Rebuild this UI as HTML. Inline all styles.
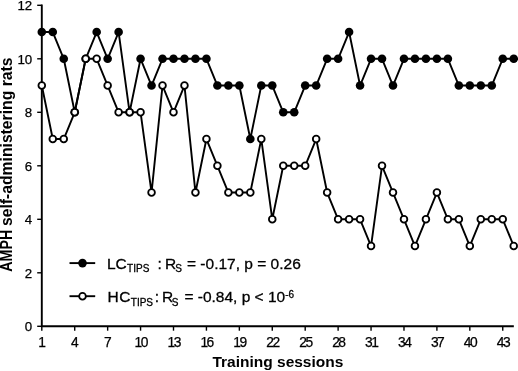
<!DOCTYPE html>
<html><head><meta charset="utf-8"><title>chart</title>
<style>
html,body{margin:0;padding:0;background:#fff;}
body{width:518px;height:371px;overflow:hidden;}
svg{display:block;}
text{font-family:"Liberation Sans",Arial,Helvetica,sans-serif;fill:#000;}
</style></head><body>
<svg width="518" height="371" viewBox="0 0 518 371">
<rect width="518" height="371" fill="#fff"/>

<g stroke="#000" stroke-width="1.9" fill="none">
<path d="M41.8 4.60 V326.3 H513.83"/>
</g><g stroke="#000" stroke-width="1.4" fill="none">
<path d="M37.20 326.30 H41.8"/>
<path d="M37.20 272.80 H41.8"/>
<path d="M37.20 219.30 H41.8"/>
<path d="M37.20 165.80 H41.8"/>
<path d="M37.20 112.30 H41.8"/>
<path d="M37.20 58.80 H41.8"/>
<path d="M37.20 5.30 H41.8"/>
<path d="M41.80 326.3 V330.70"/>
<path d="M74.72 326.3 V330.70"/>
<path d="M107.65 326.3 V330.70"/>
<path d="M140.57 326.3 V330.70"/>
<path d="M173.50 326.3 V330.70"/>
<path d="M206.43 326.3 V330.70"/>
<path d="M239.35 326.3 V330.70"/>
<path d="M272.27 326.3 V330.70"/>
<path d="M305.20 326.3 V330.70"/>
<path d="M338.12 326.3 V330.70"/>
<path d="M371.05 326.3 V330.70"/>
<path d="M403.98 326.3 V330.70"/>
<path d="M436.90 326.3 V330.70"/>
<path d="M469.82 326.3 V330.70"/>
<path d="M502.75 326.3 V330.70"/>
</g>
<g stroke="#000" stroke-width="0.25">
<text x="32.2" y="331.00" font-size="13.3" text-anchor="end">0</text>
<text x="32.2" y="277.50" font-size="13.3" text-anchor="end">2</text>
<text x="32.2" y="224.00" font-size="13.3" text-anchor="end">4</text>
<text x="32.2" y="170.50" font-size="13.3" text-anchor="end">6</text>
<text x="32.2" y="117.00" font-size="13.3" text-anchor="end">8</text>
<text x="32.2" y="63.50" font-size="13.3" text-anchor="end">10</text>
<text x="32.2" y="10.00" font-size="13.3" text-anchor="end">12</text>
<text x="42.00" y="346.6" font-size="13.8" text-anchor="middle">1</text>
<text x="74.92" y="346.6" font-size="13.8" text-anchor="middle">4</text>
<text x="107.85" y="346.6" font-size="13.8" text-anchor="middle">7</text>
<text x="140.77" y="346.6" font-size="13.8" text-anchor="middle" letter-spacing="-1.5">10</text>
<text x="173.70" y="346.6" font-size="13.8" text-anchor="middle" letter-spacing="-1.5">13</text>
<text x="206.62" y="346.6" font-size="13.8" text-anchor="middle" letter-spacing="-1.5">16</text>
<text x="239.55" y="346.6" font-size="13.8" text-anchor="middle" letter-spacing="-1.5">19</text>
<text x="272.47" y="346.6" font-size="13.8" text-anchor="middle" letter-spacing="-1.5">22</text>
<text x="305.40" y="346.6" font-size="13.8" text-anchor="middle" letter-spacing="-1.5">25</text>
<text x="338.32" y="346.6" font-size="13.8" text-anchor="middle" letter-spacing="-1.5">28</text>
<text x="371.25" y="346.6" font-size="13.8" text-anchor="middle" letter-spacing="-1.5">31</text>
<text x="404.18" y="346.6" font-size="13.8" text-anchor="middle" letter-spacing="-1.5">34</text>
<text x="437.10" y="346.6" font-size="13.8" text-anchor="middle" letter-spacing="-1.5">37</text>
<text x="470.02" y="346.6" font-size="13.8" text-anchor="middle" letter-spacing="-1.5">40</text>
<text x="502.95" y="346.6" font-size="13.8" text-anchor="middle" letter-spacing="-1.5">43</text>
</g>
<polyline points="41.80,32.05 52.77,32.05 63.75,58.80 74.72,112.30 85.70,58.80 96.67,32.05 107.65,58.80 118.62,32.05 129.60,112.30 140.57,58.80 151.55,85.55 162.52,58.80 173.50,58.80 184.47,58.80 195.45,58.80 206.43,58.80 217.40,85.55 228.38,85.55 239.35,85.55 250.32,139.05 261.30,85.55 272.27,85.55 283.25,112.30 294.22,112.30 305.20,85.55 316.18,85.55 327.15,58.80 338.12,58.80 349.10,32.05 360.07,85.55 371.05,58.80 382.02,58.80 393.00,85.55 403.98,58.80 414.95,58.80 425.93,58.80 436.90,58.80 447.88,58.80 458.85,85.55 469.82,85.55 480.80,85.55 491.77,85.55 502.75,58.80 513.73,58.80" fill="none" stroke="#000" stroke-width="1.9" stroke-linejoin="round"/>
<circle cx="41.80" cy="32.05" r="4.3" fill="#000"/>
<circle cx="52.77" cy="32.05" r="4.3" fill="#000"/>
<circle cx="63.75" cy="58.80" r="4.3" fill="#000"/>
<circle cx="74.72" cy="112.30" r="4.3" fill="#000"/>
<circle cx="85.70" cy="58.80" r="4.3" fill="#000"/>
<circle cx="96.67" cy="32.05" r="4.3" fill="#000"/>
<circle cx="107.65" cy="58.80" r="4.3" fill="#000"/>
<circle cx="118.62" cy="32.05" r="4.3" fill="#000"/>
<circle cx="129.60" cy="112.30" r="4.3" fill="#000"/>
<circle cx="140.57" cy="58.80" r="4.3" fill="#000"/>
<circle cx="151.55" cy="85.55" r="4.3" fill="#000"/>
<circle cx="162.52" cy="58.80" r="4.3" fill="#000"/>
<circle cx="173.50" cy="58.80" r="4.3" fill="#000"/>
<circle cx="184.47" cy="58.80" r="4.3" fill="#000"/>
<circle cx="195.45" cy="58.80" r="4.3" fill="#000"/>
<circle cx="206.43" cy="58.80" r="4.3" fill="#000"/>
<circle cx="217.40" cy="85.55" r="4.3" fill="#000"/>
<circle cx="228.38" cy="85.55" r="4.3" fill="#000"/>
<circle cx="239.35" cy="85.55" r="4.3" fill="#000"/>
<circle cx="250.32" cy="139.05" r="4.3" fill="#000"/>
<circle cx="261.30" cy="85.55" r="4.3" fill="#000"/>
<circle cx="272.27" cy="85.55" r="4.3" fill="#000"/>
<circle cx="283.25" cy="112.30" r="4.3" fill="#000"/>
<circle cx="294.22" cy="112.30" r="4.3" fill="#000"/>
<circle cx="305.20" cy="85.55" r="4.3" fill="#000"/>
<circle cx="316.18" cy="85.55" r="4.3" fill="#000"/>
<circle cx="327.15" cy="58.80" r="4.3" fill="#000"/>
<circle cx="338.12" cy="58.80" r="4.3" fill="#000"/>
<circle cx="349.10" cy="32.05" r="4.3" fill="#000"/>
<circle cx="360.07" cy="85.55" r="4.3" fill="#000"/>
<circle cx="371.05" cy="58.80" r="4.3" fill="#000"/>
<circle cx="382.02" cy="58.80" r="4.3" fill="#000"/>
<circle cx="393.00" cy="85.55" r="4.3" fill="#000"/>
<circle cx="403.98" cy="58.80" r="4.3" fill="#000"/>
<circle cx="414.95" cy="58.80" r="4.3" fill="#000"/>
<circle cx="425.93" cy="58.80" r="4.3" fill="#000"/>
<circle cx="436.90" cy="58.80" r="4.3" fill="#000"/>
<circle cx="447.88" cy="58.80" r="4.3" fill="#000"/>
<circle cx="458.85" cy="85.55" r="4.3" fill="#000"/>
<circle cx="469.82" cy="85.55" r="4.3" fill="#000"/>
<circle cx="480.80" cy="85.55" r="4.3" fill="#000"/>
<circle cx="491.77" cy="85.55" r="4.3" fill="#000"/>
<circle cx="502.75" cy="58.80" r="4.3" fill="#000"/>
<circle cx="513.73" cy="58.80" r="4.3" fill="#000"/>
<polyline points="41.80,85.55 52.77,139.05 63.75,139.05 74.72,112.30 85.70,58.80 96.67,58.80 107.65,85.55 118.62,112.30 129.60,112.30 140.57,112.30 151.55,192.55 162.52,85.55 173.50,112.30 184.47,85.55 195.45,192.55 206.43,139.05 217.40,165.80 228.38,192.55 239.35,192.55 250.32,192.55 261.30,139.05 272.27,219.30 283.25,165.80 294.22,165.80 305.20,165.80 316.18,139.05 327.15,192.55 338.12,219.30 349.10,219.30 360.07,219.30 371.05,246.05 382.02,165.80 393.00,192.55 403.98,219.30 414.95,246.05 425.93,219.30 436.90,192.55 447.88,219.30 458.85,219.30 469.82,246.05 480.80,219.30 491.77,219.30 502.75,219.30 513.73,246.05" fill="none" stroke="#000" stroke-width="1.9" stroke-linejoin="round"/>
<circle cx="41.80" cy="85.55" r="3.35" fill="#fff" stroke="#000" stroke-width="1.8"/>
<circle cx="52.77" cy="139.05" r="3.35" fill="#fff" stroke="#000" stroke-width="1.8"/>
<circle cx="63.75" cy="139.05" r="3.35" fill="#fff" stroke="#000" stroke-width="1.8"/>
<circle cx="74.72" cy="112.30" r="3.35" fill="#fff" stroke="#000" stroke-width="1.8"/>
<circle cx="85.70" cy="58.80" r="3.35" fill="#fff" stroke="#000" stroke-width="1.8"/>
<circle cx="96.67" cy="58.80" r="3.35" fill="#fff" stroke="#000" stroke-width="1.8"/>
<circle cx="107.65" cy="85.55" r="3.35" fill="#fff" stroke="#000" stroke-width="1.8"/>
<circle cx="118.62" cy="112.30" r="3.35" fill="#fff" stroke="#000" stroke-width="1.8"/>
<circle cx="129.60" cy="112.30" r="3.35" fill="#fff" stroke="#000" stroke-width="1.8"/>
<circle cx="140.57" cy="112.30" r="3.35" fill="#fff" stroke="#000" stroke-width="1.8"/>
<circle cx="151.55" cy="192.55" r="3.35" fill="#fff" stroke="#000" stroke-width="1.8"/>
<circle cx="162.52" cy="85.55" r="3.35" fill="#fff" stroke="#000" stroke-width="1.8"/>
<circle cx="173.50" cy="112.30" r="3.35" fill="#fff" stroke="#000" stroke-width="1.8"/>
<circle cx="184.47" cy="85.55" r="3.35" fill="#fff" stroke="#000" stroke-width="1.8"/>
<circle cx="195.45" cy="192.55" r="3.35" fill="#fff" stroke="#000" stroke-width="1.8"/>
<circle cx="206.43" cy="139.05" r="3.35" fill="#fff" stroke="#000" stroke-width="1.8"/>
<circle cx="217.40" cy="165.80" r="3.35" fill="#fff" stroke="#000" stroke-width="1.8"/>
<circle cx="228.38" cy="192.55" r="3.35" fill="#fff" stroke="#000" stroke-width="1.8"/>
<circle cx="239.35" cy="192.55" r="3.35" fill="#fff" stroke="#000" stroke-width="1.8"/>
<circle cx="250.32" cy="192.55" r="3.35" fill="#fff" stroke="#000" stroke-width="1.8"/>
<circle cx="261.30" cy="139.05" r="3.35" fill="#fff" stroke="#000" stroke-width="1.8"/>
<circle cx="272.27" cy="219.30" r="3.35" fill="#fff" stroke="#000" stroke-width="1.8"/>
<circle cx="283.25" cy="165.80" r="3.35" fill="#fff" stroke="#000" stroke-width="1.8"/>
<circle cx="294.22" cy="165.80" r="3.35" fill="#fff" stroke="#000" stroke-width="1.8"/>
<circle cx="305.20" cy="165.80" r="3.35" fill="#fff" stroke="#000" stroke-width="1.8"/>
<circle cx="316.18" cy="139.05" r="3.35" fill="#fff" stroke="#000" stroke-width="1.8"/>
<circle cx="327.15" cy="192.55" r="3.35" fill="#fff" stroke="#000" stroke-width="1.8"/>
<circle cx="338.12" cy="219.30" r="3.35" fill="#fff" stroke="#000" stroke-width="1.8"/>
<circle cx="349.10" cy="219.30" r="3.35" fill="#fff" stroke="#000" stroke-width="1.8"/>
<circle cx="360.07" cy="219.30" r="3.35" fill="#fff" stroke="#000" stroke-width="1.8"/>
<circle cx="371.05" cy="246.05" r="3.35" fill="#fff" stroke="#000" stroke-width="1.8"/>
<circle cx="382.02" cy="165.80" r="3.35" fill="#fff" stroke="#000" stroke-width="1.8"/>
<circle cx="393.00" cy="192.55" r="3.35" fill="#fff" stroke="#000" stroke-width="1.8"/>
<circle cx="403.98" cy="219.30" r="3.35" fill="#fff" stroke="#000" stroke-width="1.8"/>
<circle cx="414.95" cy="246.05" r="3.35" fill="#fff" stroke="#000" stroke-width="1.8"/>
<circle cx="425.93" cy="219.30" r="3.35" fill="#fff" stroke="#000" stroke-width="1.8"/>
<circle cx="436.90" cy="192.55" r="3.35" fill="#fff" stroke="#000" stroke-width="1.8"/>
<circle cx="447.88" cy="219.30" r="3.35" fill="#fff" stroke="#000" stroke-width="1.8"/>
<circle cx="458.85" cy="219.30" r="3.35" fill="#fff" stroke="#000" stroke-width="1.8"/>
<circle cx="469.82" cy="246.05" r="3.35" fill="#fff" stroke="#000" stroke-width="1.8"/>
<circle cx="480.80" cy="219.30" r="3.35" fill="#fff" stroke="#000" stroke-width="1.8"/>
<circle cx="491.77" cy="219.30" r="3.35" fill="#fff" stroke="#000" stroke-width="1.8"/>
<circle cx="502.75" cy="219.30" r="3.35" fill="#fff" stroke="#000" stroke-width="1.8"/>
<circle cx="513.73" cy="246.05" r="3.35" fill="#fff" stroke="#000" stroke-width="1.8"/>
<g stroke="#000" stroke-width="1.9"><path d="M69.5 263.1 H95.2"/><path d="M69.5 296.2 H95.2"/></g>
<circle cx="82.50" cy="263.10" r="4.3" fill="#000"/>
<circle cx="82.50" cy="296.20" r="3.35" fill="#fff" stroke="#000" stroke-width="1.8"/>
<g font-size="15.5" stroke="#000" stroke-width="0.3">
<text x="107" y="269.3">LC</text><text x="127.1" y="272.40000000000003" font-size="10">TIPS</text>
<text x="157.6" y="269.3">:</text><text x="164.9" y="269.3">R</text><text x="175.3" y="272.40000000000003" font-size="10">S</text>
<text x="187" y="269.3">= -0.17, p = 0.26</text>
<text x="107.5" y="302.2" letter-spacing="0.6">HC</text><text x="130.8" y="305.7" font-size="10">TIPS</text>
<text x="154.7" y="302.2">:</text><text x="162" y="302.2">R</text><text x="171.8" y="305.7" font-size="10">S</text>
<text x="184.4" y="302.2">= -0.84, p &lt; 10</text><text x="285.2" y="298.0" font-size="10">-6</text>
</g>
<text x="277.9" y="366.7" font-size="15.5" font-weight="bold" text-anchor="middle">Training sessions</text>
<text transform="translate(12.1 271.8) rotate(-90)" font-size="16.2" font-weight="bold" textLength="42" lengthAdjust="spacingAndGlyphs">AMPH</text>
<text transform="translate(12.1 226.1) rotate(-90)" font-size="16.5" font-weight="bold" textLength="168.6" lengthAdjust="spacingAndGlyphs">self-administering rats</text>
</svg></body></html>
